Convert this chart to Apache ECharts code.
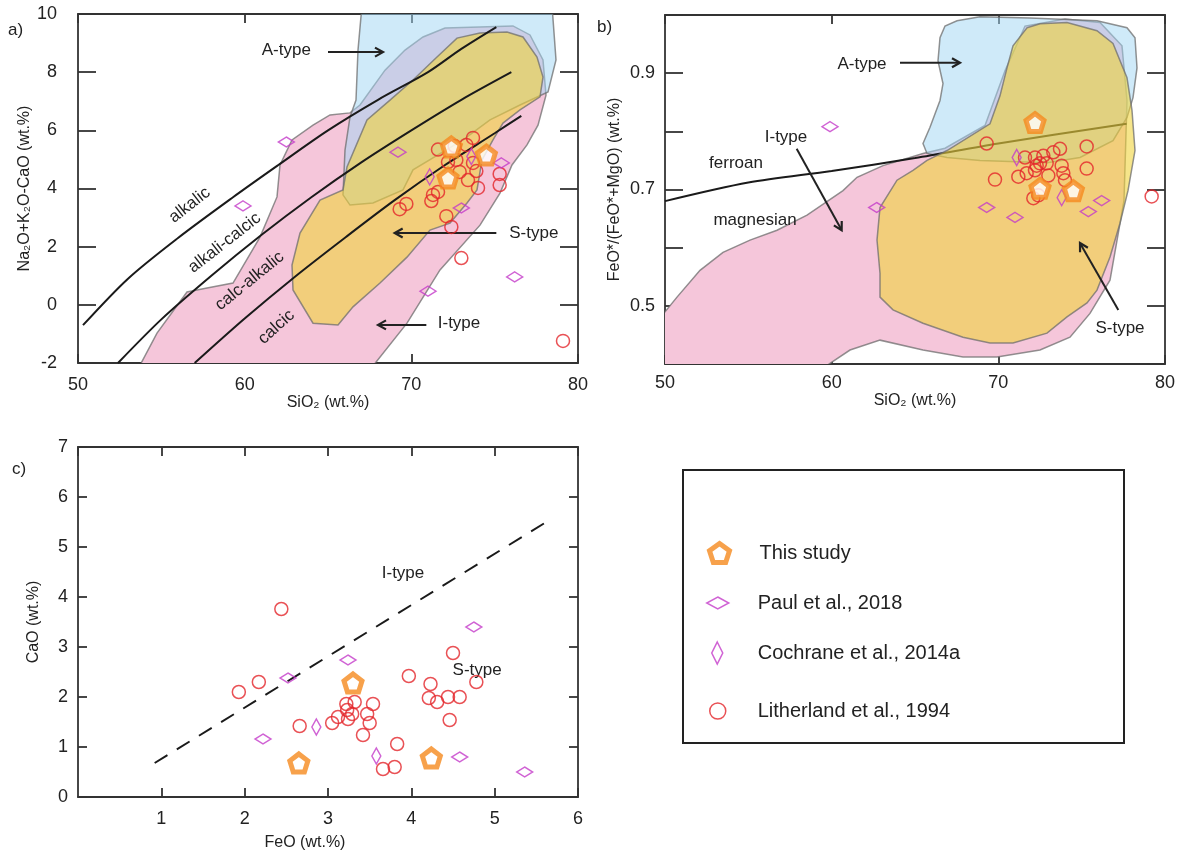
<!DOCTYPE html>
<html><head><meta charset="utf-8">
<script src="https://cdn.jsdelivr.net/npm/echarts@6.0.0/dist/echarts.min.js"></script>
<style>html,body{margin:0;padding:0;background:#fff}#c{width:1184px;height:854px}</style>
</head><body><div id="c"></div>
<script>
// ---------------- DATA ----------------
// Panel a: SiO2 vs Na2O+K2O-CaO
const a_this_x = [72.4, 74.5, 72.2];
const a_this_y = [5.43, 5.15, 4.36];
const a_paul_x = [62.5, 59.9, 69.2, 75.4, 73.0, 76.2, 71.0];
const a_paul_y = [5.6, 3.4, 5.25, 4.88, 3.33, 0.96, 0.47];
const a_coch_x = [71.1, 73.6];
const a_coch_y = [4.4, 5.1];
const a_lith_x = [71.6,72.6,73.3,73.7,72.2,72.7,73.7,73.9,72.9,73.4,74.0,75.3,75.3,71.3,71.2,71.6,69.7,69.3,72.1,72.4,73.0,79.1];
const a_lith_y = [5.34,5.46,5.50,5.74,4.91,4.98,4.88,4.60,4.57,4.29,4.02,4.50,4.12,3.78,3.57,3.88,3.47,3.29,3.05,2.68,1.61,-1.24];
// MALI boundary curves
const a_line1 = [[50.3,-0.7],[53,0.9],[56,2.3],[59.3,3.7],[62,4.8],[65,6.0],[68,7.05],[71,8.0],[73,8.8],[75.1,9.55]];
const a_line2 = [[52.4,-2],[55,-0.5],[58,1.0],[61,2.4],[64,3.7],[67,4.9],[70,6.0],[73,7.05],[76,8.0]];
const a_line3 = [[57.0,-2],[60,-0.47],[63,0.96],[66,2.3],[69,3.6],[72,4.8],[75,5.9],[76.6,6.5]];
// Fields (outlines)
const a_Itype = [[53.7,-2.1],[54.74,-0.97],[56.54,0.44],[57.74,0.58],[59.3,0.75],[60.92,2.33],[61.94,3.71],[62.12,4.81],[62.84,5.67],[64.1,6.18],[65.12,6.53],[66.32,6.6],[66.92,6.87],[68.42,8.07],[69.62,8.76],[70.7,9.21],[72.02,9.52],[76.1,9.59],[77.12,9.28],[77.9,8.42],[78.08,7.21],[77.6,6.18],[76.94,5.5],[76.04,4.81],[75.32,3.84],[74.12,2.74],[71.72,1.2],[69.74,-0.63],[67.7,-2.1]];
const a_Atype = [[67.04,10.3],[78.44,10.3],[78.68,8.42],[78.2,7.32],[76.52,6.87],[74.72,6.36],[73.1,5.67],[70.1,4.64],[69.5,3.95],[67.7,3.5],[66.32,3.43],[65.9,3.78],[66.02,5.32],[66.32,6.46],[66.68,7.04],[66.8,8.76]];
const a_Stype = [[62.84,1.37],[62.9,0.51],[64.1,-0.63],[65.6,-0.69],[66.5,-0.07],[68.12,0.75],[69.74,1.64],[71.12,2.57],[72.32,2.81],[73.34,3.5],[73.94,3.95],[74.24,4.98],[74.9,5.67],[75.5,6.25],[76.52,6.7],[77.72,7.15],[77.9,7.83],[77.54,8.52],[76.7,9.21],[75.74,9.38],[74.12,9.35],[72.74,9.17],[71.54,8.52],[70.1,7.73],[68.72,7.04],[67.34,6.36],[66.14,4.74],[65.9,3.95],[64.52,3.6],[63.32,2.47]];

// Panel b: SiO2 vs FeO*/(FeO*+MgO)
const b_this_x = [72.2, 72.5, 74.5];
const b_this_y = [0.815, 0.702, 0.698];
const b_paul_x = [59.9, 62.7, 69.3, 71.0, 75.4, 76.2];
const b_paul_y = [0.808, 0.669, 0.669, 0.652, 0.662, 0.681];
const b_coch_x = [71.1, 73.8];
const b_coch_y = [0.755, 0.686];
const b_lith_x = [69.3,69.8,71.2,71.6,72.2,72.7,73.3,73.7,75.3,75.3,72.3,72.5,72.9,73.8,73.9,74.0,73.0,72.2,71.7,72.1,72.4,79.2];
const b_lith_y = [0.779,0.717,0.722,0.755,0.755,0.758,0.764,0.770,0.774,0.736,0.741,0.745,0.745,0.741,0.728,0.716,0.724,0.733,0.728,0.685,0.690,0.688];
const b_ferroan = [[50,0.68],[55,0.712],[60,0.732],[65,0.754],[70,0.779],[77.7,0.813]];
const b_Itype = [[49.5,0.38],[49.5,0.472],[50.72,0.515],[52.1,0.561],[53.48,0.592],[55.1,0.613],[56.72,0.63],[58.52,0.656],[60.68,0.698],[61.52,0.721],[63.08,0.741],[65.48,0.762],[66.8,0.771],[69.2,0.81],[70.4,0.904],[71.6,0.981],[74.0,0.993],[76.1,0.987],[77.42,0.947],[77.72,0.853],[77.54,0.681],[76.7,0.544],[75.5,0.487],[74.3,0.446],[72.5,0.424],[69.92,0.412],[67.88,0.412],[65.48,0.424],[62.9,0.441],[61.1,0.424],[58.8,0.38]];
const b_Atype = [[67.52,0.99],[68.9,0.997],[71.9,0.995],[75.92,0.99],[77.72,0.978],[78.2,0.961],[78.32,0.909],[78.08,0.858],[77.72,0.824],[76.88,0.784],[74.9,0.755],[72.92,0.746],[68.9,0.75],[66.92,0.755],[65.72,0.762],[65.48,0.779],[65.9,0.807],[66.5,0.853],[66.68,0.882],[66.38,0.921],[66.5,0.961],[66.8,0.981]];
const b_Stype = [[71.72,0.978],[72.5,0.985],[74.12,0.987],[75.92,0.973],[76.88,0.951],[77.72,0.892],[78.02,0.836],[78.2,0.767],[77.78,0.698],[77.3,0.642],[76.7,0.584],[75.92,0.527],[75.32,0.505],[74.12,0.481],[72.92,0.453],[70.88,0.436],[69.5,0.436],[67.88,0.446],[65.48,0.47],[63.68,0.493],[62.9,0.515],[62.9,0.556],[62.72,0.613],[62.9,0.669],[63.92,0.716],[64.88,0.733],[65.72,0.75],[66.92,0.767],[69.5,0.813],[70.1,0.861],[70.52,0.909],[70.88,0.947]];

// Panel c: FeO vs CaO
const c_this_x = [2.65, 3.30, 4.24];
const c_this_y = [0.68, 2.28, 0.78];
const c_paul_x = [2.52, 3.24, 2.22, 4.58, 5.36, 4.75];
const c_paul_y = [2.38, 2.74, 1.16, 0.80, 0.50, 3.40];
const c_coch_x = [2.86, 3.58];
const c_coch_y = [1.40, 0.82];
const c_lith_x = [1.93,2.17,2.66,3.05,3.12,3.22,3.23,3.32,3.24,3.29,3.47,3.50,3.54,3.42,3.83,3.66,3.80,3.97,4.23,4.21,4.31,4.44,4.58,4.46,4.50,4.78,2.44];
const c_lith_y = [2.10,2.30,1.42,1.48,1.60,1.86,1.74,1.90,1.56,1.66,1.66,1.48,1.86,1.24,1.06,0.56,0.60,2.42,2.26,1.98,1.90,2.00,2.00,1.54,2.88,2.30,3.76];
const c_divider = [[0.92,0.68],[5.62,5.5]];

// Annotations
const a_texts = ['A-type','S-type','I-type','alkalic','alkali-calcic','calc-alkalic','calcic'];
const a_textPos = [[62.5,8.76],[77.35,2.47],[72.86,-0.63],[56.7,3.43],[58.8,2.13],[60.3,0.82],[61.9,-0.76]];
const a_textRot = [0,0,0,38,38,39,42];
const a_arrows = [[65.0,8.69,68.3,8.69],[75.1,2.47,69.0,2.47],[70.9,-0.69,68.0,-0.69]];
const b_texts = ['A-type','I-type','ferroan','magnesian','S-type'];
const b_textPos = [[61.82,0.916],[57.26,0.789],[54.26,0.745],[55.4,0.647],[77.3,0.462]];
const b_arrows = [[64.1,0.918,67.7,0.918],[57.9,0.770,60.6,0.630],[77.2,0.493,74.9,0.608]];
const c_texts = ['I-type','S-type'];
const c_textPos = [[3.9,4.48],[4.79,2.54]];

const names = ['This study','Paul et al., 2018','Cochrane et al., 2014a','Litherland et al., 1994'];

// ---------------- STYLE ----------------
const FONT = '"Liberation Sans", Arial, sans-serif';
const TXT = '#222';
const C_OR = '#F5891E', C_RED = '#E3262B', C_MAG = '#C43BC9';
const PENT = 'path://M0,-10 L9.51,-3.09 L5.88,8.09 L-5.88,8.09 L-9.51,-3.09 Z';
const zip = (xs, ys) => xs.map((x, i) => [x, ys[i]]);

function polySeries(pts, gi, fill, z) {
  return { type:'custom', xAxisIndex: gi*2, yAxisIndex: gi*2, clip:true, silent:true, z:z,
    data: pts, encode:{x:0, y:1},
    renderItem: function(params, api) {
      if (params.dataIndex !== 0) return null;
      return { type:'polygon', shape:{ points: pts.map(p => api.coord(p)) },
        style:{ fill: fill, stroke:'rgba(110,110,110,0.75)', lineWidth:1.5 } };
    } };
}
function lineSeries(pts, gi, z, dash) {
  return { type:'line', xAxisIndex: gi*2, yAxisIndex: gi*2, data: pts, showSymbol:false, symbol:'none',
    smooth: dash ? false : 0.3, z:z, silent:true,
    lineStyle:{ color:'#1a1a1a', width:2, type: dash ? [15,11] : 'solid' } };
}
function arrowSeries(arr, gi) {
  return { type:'custom', xAxisIndex: gi*2, yAxisIndex: gi*2, z:8, silent:true, clip:false,
    data: arr, encode:{x:[0,2], y:[1,3]},
    renderItem: function(params, api) {
      const a = api.coord([api.value(0), api.value(1)]);
      const b = api.coord([api.value(2), api.value(3)]);
      const ang = Math.atan2(b[1]-a[1], b[0]-a[0]);
      const L = 8, W = 4.5;
      const bk = [b[0]-L*Math.cos(ang), b[1]-L*Math.sin(ang)];
      const p1 = [bk[0]+W*Math.sin(ang), bk[1]-W*Math.cos(ang)];
      const p2 = [bk[0]-W*Math.sin(ang), bk[1]+W*Math.cos(ang)];
      return { type:'group', children:[
        { type:'line', shape:{x1:a[0], y1:a[1], x2:b[0]-1*Math.cos(ang), y2:b[1]-1*Math.sin(ang)}, style:{stroke:'#222', lineWidth:2} },
        { type:'polyline', shape:{points:[p1, b, p2]}, style:{stroke:'#222', lineWidth:2.2, fill:null} }
      ]};
    } };
}
function textSeries(pos, texts, rots, gi, size) {
  return { type:'custom', xAxisIndex: gi*2, yAxisIndex: gi*2, z:9, silent:true, clip:false,
    data: pos, encode:{x:0, y:1},
    renderItem: function(params, api) {
      const p = api.coord([api.value(0), api.value(1)]);
      const r = rots ? rots[params.dataIndex] : 0;
      return { type:'text', x:p[0], y:p[1], rotation: r*Math.PI/180,
        style:{ text: texts[params.dataIndex], fill:TXT, font: size+'px '+FONT, align:'center', verticalAlign:'middle' } };
    } };
}
function scatterSet(gi, th, pa, co, li) {
  const xi = gi*2, yi = gi*2;
  return [
    { name:names[3], type:'scatter', xAxisIndex:xi, yAxisIndex:yi, data:li, symbol:'circle', symbolSize:13, z:10,
      itemStyle:{ color:'rgba(0,0,0,0)', borderColor:C_RED, borderWidth:1.5 } },
    { name:names[1], type:'scatter', xAxisIndex:xi, yAxisIndex:yi, data:pa, symbol:'diamond', symbolSize:[16,10], z:11,
      itemStyle:{ color:'rgba(0,0,0,0)', borderColor:C_MAG, borderWidth:1.5 } },
    { name:names[2], type:'scatter', xAxisIndex:xi, yAxisIndex:yi, data:co, symbol:'diamond', symbolSize:[9,16], z:11,
      itemStyle:{ color:'rgba(0,0,0,0)', borderColor:C_MAG, borderWidth:1.5 } },
    { name:names[0], type:'scatter', xAxisIndex:xi, yAxisIndex:yi, data:th, symbol:PENT, symbolSize:18, z:12,
      itemStyle:{ color:'#fff', borderColor:C_OR, borderWidth:5 } }
  ];
}

function xAx(gi, pos, o) {
  return Object.assign({ type:'value', gridIndex:gi, position:pos, splitLine:{show:false},
    axisLine:{ onZero:false, lineStyle:{ color:'#333', width:1.8 } },
    axisTick:{ inside:true, length:9, lineStyle:{ color:'#333', width:1.8 } },
    axisLabel:{ show: pos==='bottom', color:TXT, fontSize:18, fontFamily:FONT, margin:12 },
    nameTextStyle:{ color:TXT, fontSize:16, fontFamily:FONT } }, o);
}
function yAx(gi, pos, o) {
  return Object.assign({ type:'value', gridIndex:gi, position:pos, splitLine:{show:false},
    axisLine:{ onZero:false, lineStyle:{ color:'#333', width:1.8 } },
    axisTick:{ inside:true, length:18, lineStyle:{ color:'#333', width:1.8 } },
    axisLabel:{ show: pos==='left', color:TXT, fontSize:18, fontFamily:FONT, margin:21 },
    nameTextStyle:{ color:TXT, fontSize:16, fontFamily:FONT } }, o);
}

const xAxes = [
  xAx(0,'bottom',{min:50,max:80,interval:10, name:'SiO\u2082 (wt.%)', nameLocation:'middle', nameGap:12,
     axisLabel:{color:TXT,fontSize:18,fontFamily:FONT,margin:13}}),
  xAx(0,'top',{min:50,max:80,interval:10}),
  xAx(1,'bottom',{min:50,max:80,interval:10, name:'SiO\u2082 (wt.%)', nameLocation:'middle', nameGap:10,
     axisLabel:{color:TXT,fontSize:18,fontFamily:FONT,margin:10}}),
  xAx(1,'top',{min:50,max:80,interval:10}),
  xAx(2,'bottom',{min:0,max:6,interval:1, name:'FeO (wt.%)', nameLocation:'middle', nameGap:38,
     nameTextStyle:{color:TXT,fontSize:16,fontFamily:FONT,padding:[0,46,0,0]},
     axisLabel:{color:TXT,fontSize:18,fontFamily:FONT,margin:13,showMinLabel:false}}),
  xAx(2,'top',{min:0,max:6,interval:1})
];
const yAxes = [
  yAx(0,'left',{min:-2,max:10,interval:2, name:'Na\u2082O+K\u2082O-CaO (wt.%)', nameLocation:'middle', nameGap:44}),
  yAx(0,'right',{min:-2,max:10,interval:2}),
  yAx(1,'left',{min:0.4,max:1.0,interval:0.1, name:'FeO*/(FeO*+MgO) (wt.%)', nameLocation:'middle', nameGap:42,
     axisLabel:{color:TXT,fontSize:18,fontFamily:FONT,margin:10,
       formatter:function(v){ const r=Math.round(v*10); return (r===5||r===7||r===9)?(r/10).toFixed(1):''; }}}),
  yAx(1,'right',{min:0.4,max:1.0,interval:0.1}),
  yAx(2,'left',{min:0,max:7,interval:1, name:'CaO (wt.%)', nameLocation:'middle', nameGap:36,
     axisTick:{inside:true,length:9,lineStyle:{color:'#333',width:1.8}},
     axisLabel:{color:TXT,fontSize:18,fontFamily:FONT,margin:10}}),
  yAx(2,'right',{min:0,max:7,interval:1, axisTick:{inside:true,length:9,lineStyle:{color:'#333',width:1.8}}})
];

const PINK = 'rgba(245,198,218,1)';
const BLUE = 'rgba(160,214,244,0.5)';
const YEL = 'rgba(240,212,60,0.6)';

const series = [
  polySeries(a_Itype, 0, PINK, 1),
  polySeries(a_Atype, 0, BLUE, 2),
  polySeries(a_Stype, 0, YEL, 3),
  lineSeries(a_line1, 0, 5), lineSeries(a_line2, 0, 5), lineSeries(a_line3, 0, 5),
  polySeries(b_Itype, 1, PINK, 1),
  polySeries(b_Atype, 1, BLUE, 2),
  lineSeries(b_ferroan, 1, 2.5),
  polySeries(b_Stype, 1, YEL, 3),
  lineSeries(c_divider, 2, 5, true),
  arrowSeries(a_arrows, 0), arrowSeries(b_arrows, 1),
  textSeries(a_textPos, a_texts, a_textRot, 0, 17),
  textSeries(b_textPos, b_texts, null, 1, 17),
  textSeries(c_textPos, c_texts, null, 2, 17)
].concat(
  scatterSet(0, zip(a_this_x,a_this_y), zip(a_paul_x,a_paul_y), zip(a_coch_x,a_coch_y), zip(a_lith_x,a_lith_y)),
  scatterSet(1, zip(b_this_x,b_this_y), zip(b_paul_x,b_paul_y), zip(b_coch_x,b_coch_y), zip(b_lith_x,b_lith_y)),
  scatterSet(2, zip(c_this_x,c_this_y), zip(c_paul_x,c_paul_y), zip(c_coch_x,c_coch_y), zip(c_lith_x,c_lith_y))
);

function leg(name, icon, left, top, w, h, style, pad) {
  return { data:[{name:name, icon:icon}], left:left, top:top, itemWidth:w, itemHeight:h, selectedMode:false,
    orient:'vertical', itemStyle:style,
    textStyle:{ color:TXT, fontSize:20, fontFamily:FONT, lineHeight:24, padding:[0,0,0,pad] } };
}

const chart = echarts.init(document.getElementById('c'), null, {renderer:'canvas'});
chart.setOption({
  animation:false,
  backgroundColor:'#fff',
  grid:[
    {left:78, top:14, width:500, height:349},
    {left:665, top:15, width:500, height:349},
    {left:78, top:447, width:500, height:350}
  ],
  xAxis:xAxes, yAxis:yAxes,
  legend:[
    leg(names[0], PENT, 702, 536, 20, 20, {color:'#fff', borderColor:C_OR, borderWidth:5}, 25),
    leg(names[1], 'diamond', 701, 586, 22, 12, {color:'rgba(0,0,0,0)', borderColor:C_MAG, borderWidth:1.5}, 24),
    leg(names[2], 'diamond', 706, 636, 11, 22, {color:'rgba(0,0,0,0)', borderColor:C_MAG, borderWidth:1.5}, 30),
    leg(names[3], 'circle', 704, 694, 16, 16, {color:'rgba(0,0,0,0)', borderColor:C_RED, borderWidth:1.5}, 27)
  ],
  graphic:[
    {type:'rect', shape:{x:683, y:470, width:441, height:273}, style:{fill:'none', stroke:'#222', lineWidth:2}},
    {type:'text', x:8, y:22, style:{text:'a)', font:'17px '+FONT, fill:TXT}},
    {type:'text', x:597, y:19, style:{text:'b)', font:'17px '+FONT, fill:TXT}},
    {type:'text', x:12, y:461, style:{text:'c)', font:'17px '+FONT, fill:TXT}}
  ],
  series:series
});
</script>
</body></html>
